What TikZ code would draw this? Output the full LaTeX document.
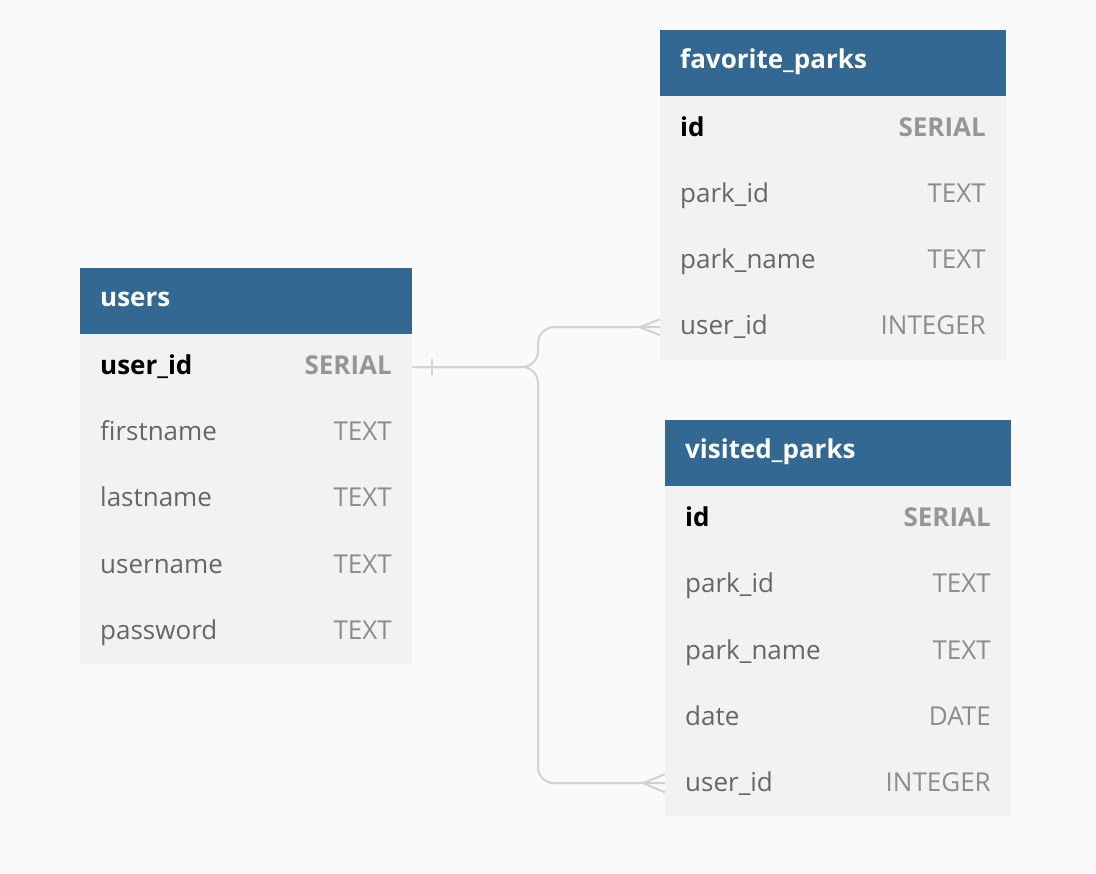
\documentclass[tikz,border=0pt]{standalone}
\usepackage{fontspec}
\setmainfont{Open Sans}
\usetikzlibrary{positioning}

\definecolor{hdrblue}{RGB}{51,104,146}
\definecolor{rowgray}{RGB}{242,242,242}
\definecolor{bggray}{RGB}{250,250,250}
\definecolor{linegray}{RGB}{210,210,210}
\definecolor{fieldgray}{RGB}{102,102,102}
\definecolor{typegray}{RGB}{140,140,140}
\definecolor{keygray}{RGB}{150,150,150}

\newcommand{\rowfont}{\fontsize{26}{30}\selectfont}
\newcommand{\keyfont}{\bfseries\fontsize{26}{30}\selectfont}

\begin{document}
\begin{tikzpicture}[x=1pt, y=-1pt,
		hdr/.style={fill=hdrblue, anchor=north west, minimum height=66pt, inner sep=0pt},
		row/.style={fill=rowgray, anchor=north west, minimum height=66pt, inner sep=0pt},
		tabname/.style={anchor=base west, text=white, font=\keyfont, inner sep=0pt},
		field/.style={anchor=base west, text=fieldgray, font=\rowfont, inner sep=0pt},
		ftype/.style={anchor=base east, text=typegray, font=\rowfont, inner sep=0pt},
		keyfield/.style={field, text=black, font=\keyfont},
		keytype/.style={ftype, text=keygray, font=\keyfont},
		rel/.style={draw=linegray, line width=2pt}]
		% Background
		\fill[bggray] (0,0) rectangle (1096,874);
		\useasboundingbox (0,0) rectangle (1096,874);
		% Table users
		\node[hdr, minimum width=332pt] (users) at (80,268) {};
		\node[tabname] (users-name) at (100,307) {users};
		\node[row, minimum width=332pt] (users-0) at (80,334) {};
		\node[keyfield] (users-0-fld) at (100,375) {user\_id};
		\node[keytype] (users-0-typ) at (392,375) {SERIAL};
		\foreach \fld/\typ [count=\i] in {firstname/TEXT, lastname/TEXT, username/TEXT, password/TEXT} {
			\node[row, minimum width=332pt] (users-\i) at (80,{334+66*\i}) {};
			\node[field] (users-\i-fld) at (100,{375+66*\i}) {\fld};
			\node[ftype] (users-\i-typ) at (392,{375+66*\i}) {\typ};
		}
		% Table favorite_parks
		\node[hdr, minimum width=346pt] (fav) at (660,30) {};
		\node[tabname] (fav-name) at (680,69) {favorite\_parks};
		\node[row, minimum width=346pt] (fav-0) at (660,96) {};
		\node[keyfield] (fav-0-fld) at (680,137) {id};
		\node[keytype] (fav-0-typ) at (986,137) {SERIAL};
		\foreach \fld/\typ [count=\i] in {park\_id/TEXT, park\_name/TEXT, user\_id/INTEGER} {
			\node[row, minimum width=346pt] (fav-\i) at (660,{96+66*\i}) {};
			\node[field] (fav-\i-fld) at (680,{137+66*\i}) {\fld};
			\node[ftype] (fav-\i-typ) at (986,{137+66*\i}) {\typ};
		}
		% Table visited_parks
		\node[hdr, minimum width=346pt] (vis) at (665,420) {};
		\node[tabname] (vis-name) at (685,459) {visited\_parks};
		\node[row, minimum width=346pt] (vis-0) at (665,486) {};
		\node[keyfield] (vis-0-fld) at (685,527) {id};
		\node[keytype] (vis-0-typ) at (991,527) {SERIAL};
		\foreach \fld/\typ [count=\i] in {park\_id/TEXT, park\_name/TEXT, date/DATE, user\_id/INTEGER} {
			\node[row, minimum width=346pt] (vis-\i) at (665,{486+66*\i}) {};
			\node[field] (vis-\i-fld) at (685,{527+66*\i}) {\fld};
			\node[ftype] (vis-\i-typ) at (991,{527+66*\i}) {\typ};
		}
		% Relations
		\coordinate (split) at (538,367);
		\draw[rel, rounded corners=16pt] (users-0.east) -- (split) |- (fav-3.west);
		\draw[rel, rounded corners=16pt] (users-0.east) -- (split) |- (vis-4.west);
		% One end
		\draw[rel] ([xshift=20pt, yshift=8pt]users-0.east) -- ([xshift=20pt, yshift=-8pt]users-0.east);
		% Many ends
		\draw[rel] ([yshift=8pt]fav-3.west) -- ([xshift=-20pt]fav-3.west) -- ([yshift=-8pt]fav-3.west);
		\draw[rel] ([yshift=9pt]vis-4.west) -- ([xshift=-22pt]vis-4.west) -- ([yshift=-9pt]vis-4.west);
	\end{tikzpicture}
\end{document}
